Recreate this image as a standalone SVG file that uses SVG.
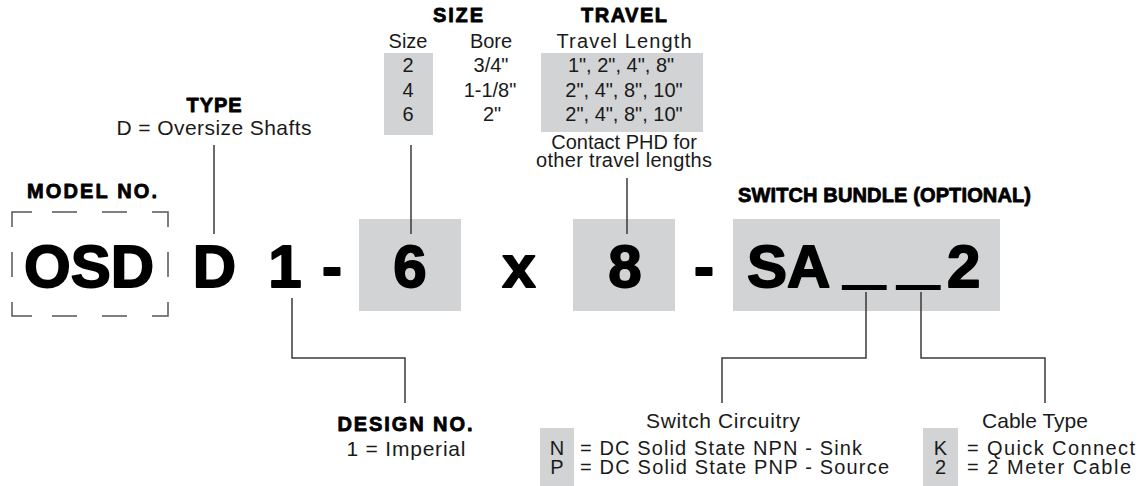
<svg xmlns="http://www.w3.org/2000/svg" width="1138" height="486" viewBox="0 0 1138 486">
<style>
  .head { font-family: "Liberation Sans", Arial, sans-serif; font-weight: bold; font-size: 20px; fill: #000; stroke: #000; stroke-width: 0.8; stroke-linejoin: round; text-anchor: middle; }
  .txt { font-family: "Liberation Sans", Arial, sans-serif; font-size: 21px; fill: #1a1a1a; }
  .row { font-size: 20px; }
  .tbl { font-family: "Liberation Sans", Arial, sans-serif; font-size: 20px; fill: #1a1a1a; text-anchor: middle; }
  .mid { text-anchor: middle; }
  .big { font-family: "Liberation Sans", Arial, sans-serif; font-weight: bold; font-size: 60px; fill: #000; stroke: #000; stroke-width: 1.8; stroke-linejoin: round; }
  .blank { font-weight: normal; font-size: 77px; stroke: none; }
  .gray { fill: #d1d3d4; }
  .conn { fill: none; stroke: #3a3a3a; stroke-width: 1.5; }
  .dash { fill: none; stroke: #555; stroke-width: 1.5; }
</style>

<g id="model-no">
  <text class="head" x="92" y="198" textLength="130" lengthAdjust="spacing">MODEL NO.</text>
  <path class="dash" d="M12,227 V212 H32 M52,212 H77 M102,212 H127 M152,212 H168 V227 M12,252 V277 M168,252 V277 M12,302 V316 H32 M52,316 H77 M102,316 H127 M152,316 H168 V302"/>
  <text class="big mid" x="89" y="287">OSD</text>
</g>

<g id="type">
  <text class="head" x="214" y="112" textLength="55" lengthAdjust="spacing">TYPE</text>
  <text class="txt mid" x="214" y="135" textLength="195" lengthAdjust="spacing">D = Oversize Shafts</text>
  <text class="big mid" x="214.5" y="287">D</text>
</g>

<g id="design-code">
  <text class="big mid" x="285" y="287">1</text>
</g>

<g id="sep1">
  <text class="big mid" x="332" y="287">-</text>
</g>

<g id="size">
  <text class="head" x="458" y="22" textLength="50" lengthAdjust="spacing">SIZE</text>
  <rect class="gray" x="384" y="53" width="49" height="82"/>
  <text class="tbl" x="408" y="48">Size</text>
  <text class="tbl" x="491" y="48">Bore</text>
  <text class="tbl" x="408" y="72">2</text>
  <text class="tbl" x="408" y="97">4</text>
  <text class="tbl" x="408" y="121">6</text>
  <text class="tbl" x="491" y="72">3/4"</text>
  <text class="tbl" x="490" y="97">1-1/8"</text>
  <text class="tbl" x="492" y="121">2"</text>
  <rect class="gray" x="359" y="219" width="102" height="92"/>
  <text class="big mid" x="410" y="287">6</text>
</g>

<g id="times">
  <text class="big mid" x="519" y="287">x</text>
</g>

<g id="travel">
  <text class="head" x="624" y="22" textLength="86" lengthAdjust="spacing">TRAVEL</text>
  <rect class="gray" x="541" y="53" width="162" height="79"/>
  <text class="tbl" x="624" y="48" textLength="135" lengthAdjust="spacing">Travel Length</text>
  <text class="tbl" x="621" y="72">1", 2", 4", 8"</text>
  <text class="tbl" x="624" y="97">2", 4", 8", 10"</text>
  <text class="tbl" x="624" y="121">2", 4", 8", 10"</text>
  <text class="tbl" x="624" y="149">Contact PHD for</text>
  <text class="tbl" x="624" y="167" textLength="176" lengthAdjust="spacing">other travel lengths</text>
  <rect class="gray" x="573" y="219" width="102" height="92"/>
  <text class="big mid" x="625" y="287">8</text>
</g>

<g id="sep2">
  <text class="big mid" x="704" y="287">-</text>
</g>

<g id="switch-bundle">
  <text class="head" x="884.5" y="202" textLength="293" lengthAdjust="spacing">SWITCH BUNDLE (OPTIONAL)</text>
  <rect class="gray" x="733" y="219" width="267" height="92"/>
  <text class="big" y="287"><tspan x="747">SA</tspan><tspan class="blank" x="843" y="274">_</tspan><tspan class="blank" x="897" y="274">_</tspan><tspan x="947" y="287">2</tspan></text>
</g>

<g id="design-no">
  <text class="head" x="405" y="431" textLength="135" lengthAdjust="spacing">DESIGN NO.</text>
  <text class="txt mid" x="406" y="456" textLength="119" lengthAdjust="spacing">1 = Imperial</text>
</g>

<g id="switch-circuitry">
  <text class="txt mid" x="723" y="428" textLength="154" lengthAdjust="spacing">Switch Circuitry</text>
  <rect class="gray" x="540" y="428" width="34" height="58"/>
  <text class="txt row mid" x="557" y="455">N</text>
  <text class="txt row mid" x="557" y="474">P</text>
  <text class="txt row" x="580" y="455" textLength="282" lengthAdjust="spacing">= DC Solid State NPN - Sink</text>
  <text class="txt row" x="580" y="474" textLength="309" lengthAdjust="spacing">= DC Solid State PNP - Source</text>
</g>

<g id="cable-type">
  <text class="txt mid" x="1035" y="428" textLength="106" lengthAdjust="spacing">Cable Type</text>
  <rect class="gray" x="923" y="428" width="35" height="58"/>
  <text class="txt row mid" x="940.5" y="455">K</text>
  <text class="txt row mid" x="940.5" y="474">2</text>
  <text class="txt row" x="967" y="455" textLength="168" lengthAdjust="spacing">= Quick Connect</text>
  <text class="txt row" x="967" y="474" textLength="164" lengthAdjust="spacing">= 2 Meter Cable</text>
</g>

<g id="connectors">
  <path class="conn" d="M214,145 V234"/>
  <path class="conn" d="M411,145 V234"/>
  <path class="conn" d="M627,178 V234"/>
  <path class="conn" d="M292,298 V358 H405 V403"/>
  <path class="conn" d="M866,292 V358 H722 V403"/>
  <path class="conn" d="M921,292 V358 H1045 V403"/>
</g>
</svg>
